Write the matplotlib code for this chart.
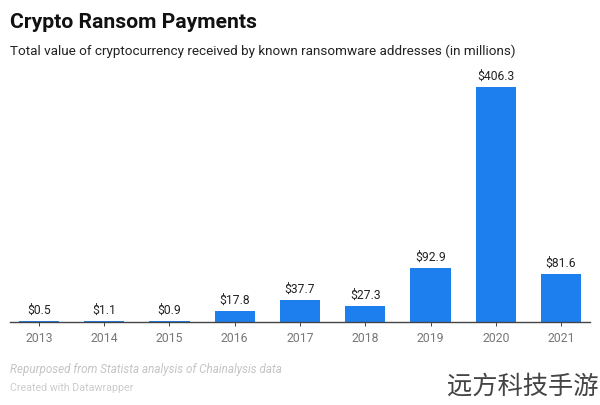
import matplotlib
matplotlib.use("Agg")
import matplotlib.pyplot as plt

years = ["2013", "2014", "2015", "2016", "2017", "2018", "2019", "2020", "2021"]
values = [0.5, 1.1, 0.9, 17.8, 37.7, 27.3, 92.9, 406.3, 81.6]
value_labels = ["$0.5", "$1.1", "$0.9", "$17.8", "$37.7", "$27.3", "$92.9", "$406.3", "$81.6"]
title = "Crypto Ransom Payments"
subtitle = "Total value of cryptocurrency received by known ransomware addresses (in millions)"
source = "Repurposed from Statista analysis of Chainalysis data"
credit = "Created with Datawrapper"
watermark = "远方科技手游"

W, H = 600, 406
plt.rcParams["font.family"] = ["Roboto", "DejaVu Sans"]
fig = plt.figure(figsize=(W / 100, H / 100), dpi=100, facecolor="white")

L, R, T, B = 10, 590, 70, 322.5
ax = fig.add_axes([L / W, 1 - B / H, (R - L) / W, (B - T) / H])
ax.set_xlim(-0.444, 8.444)
ax.set_ylim(0, (B - T) / 0.576)

x = list(range(len(years)))
ax.bar(x, values, width=0.62, color="#1d7fee", linewidth=0, zorder=2)
for xi, v, lab in zip(x, values, value_labels):
    ax.annotate(lab, (xi, v), xytext=(0, 3.8), textcoords="offset points",
                ha="center", va="bottom", fontsize=8.7, color="#222222")

for s in ["top", "left", "right"]:
    ax.spines[s].set_visible(False)
ax.spines["bottom"].set_color("#444444")
ax.spines["bottom"].set_linewidth(1.0)
ax.set_yticks([])
ax.set_xticks(x)
ax.set_xticklabels(years, fontsize=8.8, color="#777777")
ax.tick_params(axis="x", length=3, width=0.7, color="#444444", pad=4)

fig.text(10 / W, 1 - 22 / H, title, fontsize=15.2, fontweight="bold", color="#111111", va="center", ha="left")
fig.text(10 / W, 1 - 51 / H, subtitle, fontsize=9.7, color="#222222", va="center", ha="left")
fig.text(10 / W, 1 - 370 / H, source, fontsize=8.4, style="italic", color="#c4c4c4", va="center", ha="left")
fig.text(10 / W, 1 - 388 / H, credit, fontsize=7.65, color="#cccccc", va="center", ha="left")
fig.text(447 / W, 1 - 387 / H, watermark, fontsize=18.2, color="#444444", va="center", ha="left",
         family=["Noto Sans CJK SC", "DejaVu Sans"], fontweight="light")

fig.savefig("out.png", dpi=100, facecolor="white")
